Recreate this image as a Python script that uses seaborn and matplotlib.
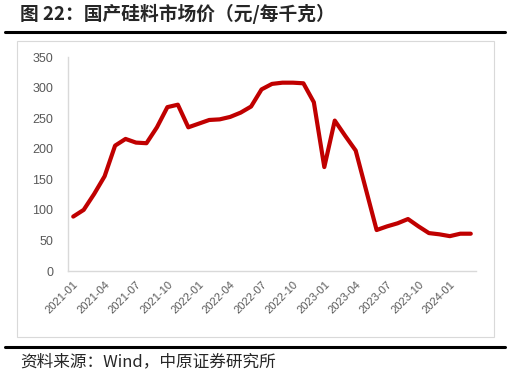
import numpy as np
import pandas as pd
import matplotlib
matplotlib.use('Agg')
import matplotlib.pyplot as plt
from matplotlib.lines import Line2D
from matplotlib.patches import Rectangle
import seaborn as sns

# monthly polysilicon price, 2021-01 .. 2024-03
months = pd.date_range('2021-01-01', periods=39, freq='MS').strftime('%Y-%m').tolist()
price = [89, 100, 126, 155, 205, 216, 210, 209, 235, 268, 272, 235,
         241, 247, 248, 252, 259, 269, 297, 306, 308, 308, 307, 276,
         170, 246, 221, 197, 132, 67, 73, 78, 85, 73, 62, 60, 57, 61, 61]

title = '图 22：国产硅料市场价（元/每千克）'
source = '资料来源：Wind，中原证券研究所'

sns.set_style('white')
plt.rcParams['font.family'] = ['Noto Sans CJK SC', 'DejaVu Sans']

df = pd.DataFrame({'idx': np.arange(len(months)), 'month': months, 'price': price})

fig = plt.figure(figsize=(5.11, 3.78), dpi=100)
ax = fig.add_axes([68 / 511, 1 - 271 / 378, (476 - 68) / 511, (271 - 57) / 378])

sns.lineplot(data=df, x='idx', y='price', ax=ax, color='#C00000', linewidth=3.0)

ax.set_xlim(-0.5, len(months) - 0.5)
ax.set_ylim(0, 350)
ax.set_yticks(range(0, 351, 50))
label_pos = list(range(0, len(months), 3))
ax.set_xticks(label_pos)
ax.set_xticklabels([months[i] for i in label_pos], rotation=45, ha='right',
                   rotation_mode='anchor', family='Liberation Sans')
ax.set_xticks(np.arange(-0.5, len(months), 3), minor=True)
ax.tick_params(axis='x', which='major', length=0, pad=6, labelsize=8, labelcolor='#595959')
ax.tick_params(axis='x', which='minor', length=4, color='#D9D9D9', direction='out')
ax.tick_params(axis='y', length=3.5, color='#D9D9D9', labelsize=9, labelcolor='#595959', pad=7)
for lbl in ax.get_yticklabels():
    lbl.set_family('Liberation Sans')
ax.set_xlabel('')
ax.set_ylabel('')
for side in ['top', 'right']:
    ax.spines[side].set_visible(False)
for side in ['left', 'bottom']:
    ax.spines[side].set_color('#D9D9D9')
    ax.spines[side].set_linewidth(1)

# frame around the chart and the report rules
fig.patches.append(Rectangle((17 / 511, 1 - 337 / 378), (494 - 17) / 511, (337 - 41) / 378,
                             transform=fig.transFigure, fill=False, edgecolor='#D9D9D9', linewidth=0.8))
fig.lines.append(Line2D([5 / 511, 505 / 511], [1 - 32 / 378] * 2, transform=fig.transFigure,
                        color='black', linewidth=2.2))
fig.lines.append(Line2D([5 / 511, 505 / 511], [1 - 347 / 378] * 2, transform=fig.transFigure,
                        color='black', linewidth=2.2))

fig.text(20 / 511, 1 - 14 / 378, title, fontsize=13.5, fontweight='bold', va='center', ha='left')
fig.text(20 / 511, 1 - 362 / 378, source, fontsize=12, va='center', ha='left')

fig.savefig('out.png', dpi=100)
